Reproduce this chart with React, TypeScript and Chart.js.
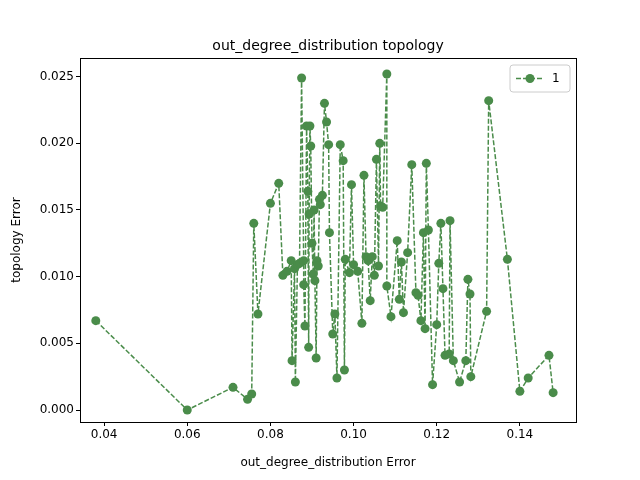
import { useEffect, useRef } from "react";
import Chart from "chart.js/auto";

const xValues = [0.038, 0.06, 0.071, 0.0745, 0.0755, 0.076, 0.077, 0.08, 0.082, 0.083, 0.084, 0.085, 0.0852, 0.0858, 0.086, 0.0865, 0.087, 0.0875, 0.088, 0.088, 0.0883, 0.0887, 0.089, 0.0892, 0.0893, 0.0895, 0.0897, 0.09, 0.0903, 0.0905, 0.0907, 0.091, 0.0912, 0.0915, 0.0918, 0.092, 0.0925, 0.093, 0.0935, 0.094, 0.0942, 0.095, 0.0955, 0.096, 0.0968, 0.0975, 0.0978, 0.098, 0.099, 0.0995, 0.1, 0.101, 0.102, 0.1025, 0.103, 0.1035, 0.104, 0.1045, 0.105, 0.1055, 0.106, 0.1063, 0.1065, 0.107, 0.108, 0.108, 0.109, 0.1105, 0.111, 0.1115, 0.112, 0.113, 0.114, 0.115, 0.1155, 0.1162, 0.1168, 0.1172, 0.1175, 0.118, 0.119, 0.12, 0.1205, 0.121, 0.1215, 0.122, 0.123, 0.1232, 0.124, 0.1255, 0.127, 0.1275, 0.128, 0.1282, 0.132, 0.1325, 0.137, 0.14, 0.142, 0.147, 0.148];
const yValues = [0.0067, 0.0, 0.0017, 0.0008, 0.0012, 0.014, 0.0072, 0.0155, 0.017, 0.0101, 0.0104, 0.0112, 0.0037, 0.0106, 0.0021, 0.0109, 0.011, 0.0249, 0.0112, 0.0094, 0.0063, 0.0213, 0.0164, 0.0047, 0.0147, 0.0213, 0.0198, 0.0125, 0.0102, 0.015, 0.0097, 0.0039, 0.0112, 0.0108, 0.0158, 0.0154, 0.0161, 0.023, 0.0216, 0.0199, 0.0133, 0.0057, 0.0072, 0.0024, 0.0199, 0.0187, 0.003, 0.0113, 0.0103, 0.0169, 0.0109, 0.0104, 0.0065, 0.0176, 0.0115, 0.0112, 0.0082, 0.0115, 0.0101, 0.0188, 0.0108, 0.02, 0.0153, 0.0152, 0.0252, 0.0093, 0.007, 0.0127, 0.0083, 0.0111, 0.0073, 0.0118, 0.0184, 0.0088, 0.0086, 0.0067, 0.0133, 0.0061, 0.0185, 0.0135, 0.0019, 0.0064, 0.011, 0.014, 0.0091, 0.0041, 0.0042, 0.0142, 0.0037, 0.0021, 0.0037, 0.0098, 0.0087, 0.0025, 0.0074, 0.0232, 0.0113, 0.0014, 0.0024, 0.0041, 0.0013];
const seriesLabel = "1";
const title = "out_degree_distribution topology";
const xTitle = "out_degree_distribution Error";
const yTitle = "topology Error";
const color = "#4a8c4a";

const frame = {
  id: "frame",
  afterDraw(chart: any) {
    const { ctx, chartArea: a } = chart;
    ctx.save();
    ctx.strokeStyle = "#000";
    ctx.lineWidth = 1;
    ctx.strokeRect(a.left + 0.5, a.top + 0.5, a.right - a.left, a.bottom - a.top);
    ctx.fillStyle = "#000";
    ctx.font = "14px 'DejaVu Sans'";
    ctx.textAlign = "center";
    ctx.textBaseline = "alphabetic";
    ctx.fillText(title, (a.left + a.right) / 2, 50);
    // axis titles
    ctx.font = "12px 'DejaVu Sans'";
    ctx.textBaseline = "middle";
    ctx.fillText(xTitle, (a.left + a.right) / 2, 463);
    ctx.translate(17, (a.top + a.bottom) / 2);
    ctx.rotate(-Math.PI / 2);
    ctx.fillText(yTitle, 0, 0);
    ctx.setTransform(1, 0, 0, 1, 0, 0);
    // legend
    const bx = 510, by = 65, bw = 60, bh = 27;
    ctx.strokeStyle = "#ccc";
    ctx.fillStyle = "rgba(255,255,255,0.8)";
    ctx.beginPath();
    ctx.roundRect(bx, by, bw, bh, 3);
    ctx.fill();
    ctx.stroke();
    ctx.strokeStyle = color;
    ctx.lineWidth = 1.5;
    ctx.setLineDash([5, 2]);
    ctx.beginPath();
    ctx.moveTo(bx + 6, by + 13.5);
    ctx.lineTo(bx + 34, by + 13.5);
    ctx.stroke();
    ctx.setLineDash([]);
    ctx.fillStyle = color;
    ctx.beginPath();
    ctx.arc(bx + 20, by + 13.5, 4.5, 0, Math.PI * 2);
    ctx.fill();
    ctx.fillStyle = "#000";
    ctx.font = "12px 'DejaVu Sans'";
    ctx.textAlign = "left";
    ctx.fillText(seriesLabel, bx + 42, by + 14);
    ctx.restore();
  },
};

const App = () => {
  const ref = useRef<HTMLCanvasElement>(null);

  useEffect(() => {
    if (!ref.current) return;
    const tickFont = { family: "DejaVu Sans", size: 12 };
    const chart = new Chart(ref.current, {
      type: "scatter",
      data: {
        datasets: [
          {
            label: seriesLabel,
            data: xValues.map((x, i) => ({ x, y: yValues[i] })),
            showLine: true,
            borderColor: color,
            backgroundColor: color,
            borderWidth: 1.5,
            borderDash: [5, 2],
            pointRadius: 4.5,
            pointHoverRadius: 4.5,
            pointBorderWidth: 0,
          },
        ],
      },
      options: {
        responsive: false,
        animation: false,
        layout: { padding: { top: 58, right: 64, left: 0, bottom: 0 } },
        plugins: { legend: { display: false }, tooltip: { enabled: false } },
        scales: {
          x: {
            type: "linear",
            min: 0.0342,
            max: 0.1535,
            afterBuildTicks: (s: any) => {
              s.ticks = [0.04, 0.06, 0.08, 0.1, 0.12, 0.14].map((v) => ({ value: v }));
            },
            afterFit: (s: any) => { s.height = 58; },
            grid: { drawOnChartArea: false, tickLength: 4, color: "#000" },
            border: { display: false },
            ticks: { color: "#000", font: tickFont, padding: 2, maxRotation: 0, callback: (v: any) => Number(v).toFixed(2) },
          },
          y: {
            min: -0.0009,
            max: 0.0264,
            afterBuildTicks: (s: any) => {
              s.ticks = [0, 0.005, 0.01, 0.015, 0.02, 0.025].map((v) => ({ value: v }));
            },
            afterFit: (s: any) => { s.width = 80; },
            grid: { drawOnChartArea: false, tickLength: 4, color: "#000" },
            border: { display: false },
            ticks: { color: "#000", font: tickFont, padding: 2, callback: (v: any) => Number(v).toFixed(3) },
          },
        },
      },
      plugins: [frame],
    });
    return () => chart.destroy();
  }, []);

  return (
    <div style={{ margin: -8 }}>
      <canvas ref={ref} width={640} height={480} />
    </div>
  );
};

export default App;
